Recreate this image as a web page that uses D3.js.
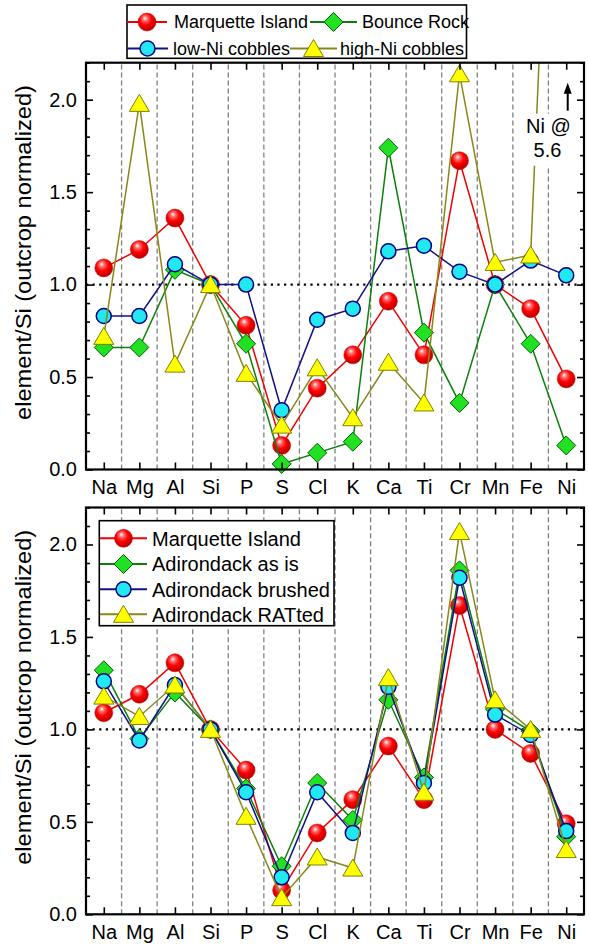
<!DOCTYPE html>
<html>
<head>
<meta charset="utf-8">
<script src="https://cdn.jsdelivr.net/npm/d3@7"></script>
<style>
    body { margin: 0; background: #fff; }
    text { font-family: "Liberation Sans", Arial, sans-serif; fill: #000; }
</style>
</head>
<body>
<div id="chart"></div>
<script>
    //-------------------------- data --------------------------
    var elements = ["Na", "Mg", "Al", "Si", "P", "S", "Cl", "K", "Ca", "Ti", "Cr", "Mn", "Fe", "Ni"];
    var yTicks = [0, 0.5, 1.0, 1.5, 2.0];

    // top panel
    var marquette = [1.09, 1.19, 1.36, 1.00, 0.78, 0.13, 0.44, 0.62, 0.91, 0.62, 1.67, 1.00, 0.87, 0.49];
    var bounceRock = [0.66, 0.66, 1.08, 1.00, 0.68, 0.03, 0.09, 0.15, 1.74, 0.74, 0.36, 1.00, 0.68, 0.13];
    var lowNiCobbles = [0.83, 0.83, 1.11, 1.00, 1.00, 0.32, 0.81, 0.87, 1.18, 1.21, 1.07, 1.00, 1.13, 1.05];
    var highNiCobbles = [0.72, 1.98, 0.57, 1.00, 0.52, 0.24, 0.55, 0.28, 0.58, 0.36, 2.14, 1.12, 1.16, 5.6];

    // bottom panel
    var adirondackAsIs = [1.32, 0.95, 1.20, 1.00, 0.68, 0.26, 0.71, 0.51, 1.16, 0.74, 1.86, 1.11, 0.99, 0.42];
    var adirondackBrushed = [1.26, 0.94, 1.24, 1.00, 0.66, 0.20, 0.66, 0.44, 1.23, 0.71, 1.82, 1.08, 0.97, 0.45];
    var adirondackRatted = [1.18, 1.07, 1.24, 1.00, 0.53, 0.09, 0.31, 0.25, 1.28, 0.66, 2.07, 1.16, 1.00, 0.35];
    //-------------------------- data end --------------------------

    var styles = {
        red: { line: "#f00000", marker: "ball" },
        green: { line: "#0a800a", marker: "diamond" },
        blue: { line: "#101088", marker: "circle" },
        olive: { line: "#88881a", marker: "triangle" }
    };

    var plotLeft = 86, plotRight = 584;
    var yMax = 2.2;

    var panels = [
        {
            top: 62.7, bottom: 469.5,
            series: [
                { name: "Marquette Island", values: marquette, style: styles.red },
                { name: "Bounce Rock", values: bounceRock, style: styles.green },
                { name: "low-Ni cobbles", values: lowNiCobbles, style: styles.blue },
                { name: "high-Ni cobbles", values: highNiCobbles, style: styles.olive }
            ],
            legend: {
                box: [127, 5, 466.5, 58.3], fontSize: 18,
                items: [
                    { x0: 127, x1: 167, tx: 174, y: 22 },
                    { x0: 310, x1: 357, tx: 362, y: 22 },
                    { x0: 127, x1: 168, tx: 173, y: 48.5 },
                    { x0: 290, x1: 337, tx: 340, y: 48.5 }
                ]
            },
            note: true
        },
        {
            top: 507.5, bottom: 914.3,
            series: [
                { name: "Marquette Island", values: marquette, style: styles.red },
                { name: "Adirondack as is", values: adirondackAsIs, style: styles.green },
                { name: "Adirondack brushed", values: adirondackBrushed, style: styles.blue },
                { name: "Adirondack RATted", values: adirondackRatted, style: styles.olive }
            ],
            legend: {
                box: [99.3, 520.7, 334, 625.7], fontSize: 20,
                items: [
                    { x0: 100, x1: 147, tx: 152, y: 538.3 },
                    { x0: 100, x1: 147, tx: 152, y: 564 },
                    { x0: 100, x1: 147, tx: 152, y: 589.3 },
                    { x0: 100, x1: 147, tx: 152, y: 614.3 }
                ]
            },
            note: false
        }
    ];

    var svg = d3.select("#chart")
        .append("svg")
        .attr("width", 589)
        .attr("height", 945);

    var defs = svg.append("defs");
    var grad = defs.append("radialGradient")
        .attr("id", "redBall")
        .attr("cx", "45%").attr("cy", "40%").attr("r", "60%")
        .attr("fx", "38%").attr("fy", "28%");
    grad.append("stop").attr("offset", "0%").attr("stop-color", "#ffffff");
    grad.append("stop").attr("offset", "22%").attr("stop-color", "#ff7070");
    grad.append("stop").attr("offset", "55%").attr("stop-color", "#ff0000");
    grad.append("stop").attr("offset", "100%").attr("stop-color", "#b80000");

    var x = d3.scaleLinear().domain([0.5, elements.length + 0.5]).range([plotLeft, plotRight]);

    // 画标记
    function drawMarker(sel, type) {
        if (type === "ball") {
            sel.append("circle").attr("r", 9)
                .attr("fill", "url(#redBall)")
                .attr("stroke", "#c00000").attr("stroke-width", 0.5);
        } else if (type === "circle") {
            sel.append("circle").attr("r", 7.5)
                .attr("fill", "#22e8f2")
                .attr("stroke", "#000080").attr("stroke-width", 1.5);
        } else if (type === "diamond") {
            sel.append("path").attr("d", "M0,-9.5L9.5,0L0,9.5L-9.5,0Z")
                .attr("fill", "#22e022")
                .attr("stroke", "#006400").attr("stroke-width", 1);
        } else {
            sel.append("path").attr("d", "M0,-9L10,8L-10,8Z")
                .attr("fill", "#ffff00")
                .attr("stroke", "#808000").attr("stroke-width", 1);
        }
    }

    function drawPanel(p, idx) {
        var y = d3.scaleLinear().domain([0, yMax]).range([p.bottom, p.top]);
        var g = svg.append("g");

        defs.append("clipPath").attr("id", "clip" + idx)
            .append("rect")
            .attr("x", plotLeft).attr("y", p.top)
            .attr("width", plotRight - plotLeft).attr("height", p.bottom - p.top);

        // 竖直虚线
        g.selectAll(".grid")
            .data(d3.range(1.5, elements.length, 1))
            .join("line")
            .attr("x1", d => x(d)).attr("x2", d => x(d))
            .attr("y1", y(0)).attr("y2", y(yMax))
            .attr("stroke", "#808080")
            .attr("stroke-width", 1.3)
            .attr("stroke-dasharray", "5,3");

        // y = 1 点线
        g.append("line")
            .attr("x1", plotLeft).attr("x2", plotRight)
            .attr("y1", y(1)).attr("y2", y(1))
            .attr("stroke", "#000")
            .attr("stroke-width", 2.2)
            .attr("stroke-dasharray", "2.2,4.4");

        // 注释 Ni @ 5.6
        if (p.note) {
            var nx = x(elements.length - 0.5);
            var niVal = p.series[3].values[elements.length - 1];
            g.append("path")
                .datum([{ i: 13, v: p.series[3].values[12] }, { i: 14, v: niVal }])
                .attr("d", d3.line().x(d => x(d.i)).y(d => y(d.v)))
                .attr("fill", "none")
                .attr("stroke", p.series[3].style.line)
                .attr("stroke-width", 1.5)
                .attr("clip-path", "url(#clip" + idx + ")");
        }

        // 数据
        p.series.forEach(function (s, si) {
            var pts = s.values.map(function (v, i) { return { i: i + 1, v: v }; });
            var linePts = pts.filter(d => d.v <= yMax);
            g.append("path")
                .datum(linePts)
                .attr("d", d3.line().x(d => x(d.i)).y(d => y(d.v)))
                .attr("fill", "none")
                .attr("stroke", s.style.line)
                .attr("stroke-width", 1.5);
            g.selectAll(".m" + si)
                .data(linePts)
                .join("g")
                .attr("class", "m" + si)
                .attr("transform", d => "translate(" + x(d.i) + "," + y(d.v) + ")")
                .each(function () { drawMarker(d3.select(this), s.style.marker); });
        });

        if (p.note) {
            var nx2 = x(elements.length - 0.5);
            var niVal2 = p.series[3].values[elements.length - 1];
            g.append("rect")
                .attr("x", nx2 - 25).attr("y", p.top + 51)
                .attr("width", 48).attr("height", 52)
                .attr("fill", "#fff");
            g.append("text")
                .attr("x", nx2).attr("y", p.top + 70)
                .attr("text-anchor", "middle")
                .attr("font-size", 20)
                .text(elements[elements.length - 1] + " @");
            g.append("text")
                .attr("x", nx2 - 1).attr("y", p.top + 94)
                .attr("text-anchor", "middle")
                .attr("font-size", 20)
                .text(niVal2.toFixed(1));
            // 箭头
            var ax = x(elements.length) + 1.5;
            g.append("line")
                .attr("x1", ax).attr("x2", ax)
                .attr("y1", p.top + 48).attr("y2", p.top + 28)
                .attr("stroke", "#000").attr("stroke-width", 2);
            g.append("path")
                .attr("d", "M" + ax + "," + (p.top + 20) + "L" + (ax - 4) + "," + (p.top + 31) + "L" + (ax + 4) + "," + (p.top + 31) + "Z")
                .attr("fill", "#000");
        }

        // 坐标轴
        var minor = d3.range(0, 23).map(d => d / 10).filter(d => Math.round(d * 10) % 5 !== 0);
        var axisFont = function (sel) {
            sel.attr("font-size", 20).attr("font-family", "'Liberation Sans', Arial, sans-serif");
            sel.select(".domain").remove();
            sel.selectAll(".tick line").attr("stroke-width", 1.6);
        };

        g.append("g")
            .attr("transform", "translate(" + plotLeft + ",0)")
            .call(d3.axisLeft(y).tickValues(yTicks).tickSize(-7).tickPadding(9).tickFormat(d3.format(".1f")))
            .call(axisFont);
        g.append("g")
            .attr("transform", "translate(" + plotLeft + ",0)")
            .call(d3.axisLeft(y).tickValues(minor).tickSize(-4).tickFormat(""))
            .call(axisFont);
        g.append("g")
            .attr("transform", "translate(" + plotRight + ",0)")
            .call(d3.axisRight(y).tickValues(yTicks).tickSize(-7).tickFormat(""))
            .call(axisFont);
        g.append("g")
            .attr("transform", "translate(" + plotRight + ",0)")
            .call(d3.axisRight(y).tickValues(minor).tickSize(-4).tickFormat(""))
            .call(axisFont);
        g.append("g")
            .attr("transform", "translate(0," + p.bottom + ")")
            .call(d3.axisBottom(x).tickValues(d3.range(1, elements.length + 1))
                .tickSize(-7).tickPadding(10.5).tickFormat(d => elements[d - 1]))
            .call(axisFont);
        g.append("g")
            .attr("transform", "translate(0," + p.top + ")")
            .call(d3.axisTop(x).tickValues(d3.range(1, elements.length + 1)).tickSize(-7).tickFormat(""))
            .call(axisFont);

        // 边框
        g.append("rect")
            .attr("x", plotLeft).attr("y", p.top)
            .attr("width", plotRight - plotLeft).attr("height", p.bottom - p.top)
            .attr("fill", "none")
            .attr("stroke", "#000")
            .attr("stroke-width", 2.2);

        // Y轴标题
        var midY = p.top + 189.8;
        g.append("text")
            .attr("transform", "translate(31," + midY + ") rotate(-90)")
            .attr("text-anchor", "middle")
            .attr("font-size", 22)
            .attr("textLength", 335)
            .attr("lengthAdjust", "spacingAndGlyphs")
            .text("element/Si (outcrop normalized)");

        // 图例
        var lg = p.legend;
        var leg = svg.append("g");
        leg.append("rect")
            .attr("x", lg.box[0]).attr("y", lg.box[1])
            .attr("width", lg.box[2] - lg.box[0]).attr("height", lg.box[3] - lg.box[1])
            .attr("fill", "#fff")
            .attr("stroke", "#000")
            .attr("stroke-width", 1.6);
        p.series.forEach(function (s, si) {
            var it = lg.items[si];
            leg.append("line")
                .attr("x1", it.x0).attr("x2", it.x1)
                .attr("y1", it.y).attr("y2", it.y)
                .attr("stroke", s.style.line)
                .attr("stroke-width", 2);
            leg.append("g")
                .attr("transform", "translate(" + ((it.x0 + it.x1) / 2) + "," + it.y + ")")
                .call(function (sel) { drawMarker(sel, s.style.marker); });
            leg.append("text")
                .attr("x", it.tx).attr("y", it.y)
                .attr("dy", "0.36em")
                .attr("font-size", lg.fontSize)
                .text(s.name);
        });
    }

    panels.forEach(drawPanel);
</script>
</body>
</html>
